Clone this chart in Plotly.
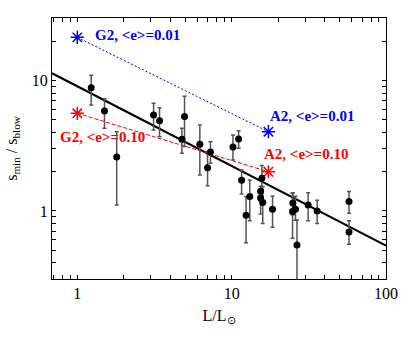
import plotly.graph_objects as go

# Data points (L/Lsun, s_min/s_blow) with asymmetric error bars
lum = [1.23, 1.50, 1.80, 3.12, 3.41, 4.76, 4.95, 6.22, 6.98, 7.29, 10.2, 11.1, 11.6, 12.4, 13.1,
       15.4, 15.4, 15.7, 15.9, 18.4, 24.9, 24.8, 25.9, 26.5, 31.3, 35.8, 57.6, 57.6]
ratio = [8.84, 5.85, 2.60, 5.45, 4.93, 3.55, 5.30, 3.25, 2.15, 2.84, 3.10, 3.57, 1.72, 0.926, 1.29,
         1.42, 1.26, 1.78, 1.16, 1.03, 1.15, 0.99, 1.03, 0.548, 1.11, 1.00, 1.18, 0.69]
err_hi = [11.0, 7.27, 4.06, 6.7, 6.2, 4.31, 7.6, 4.57, 2.85, 3.40, 3.83, 4.13, 2.06, 1.29, 1.73,
          1.55, 1.45, 2.23, 1.54, 1.30, 1.38, 1.37, 1.30, 0.853, 1.38, 1.21, 1.41, 0.84]
err_lo = [6.5, 4.31, 1.11, 4.18, 3.72, 2.77, 3.12, 1.89, 1.56, 2.32, 2.46, 3.03, 1.35, 0.571, 0.843,
          1.20, 0.95, 1.45, 0.80, 0.75, 0.93, 0.617, 0.85, 0.05, 0.84, 0.80, 0.96, 0.555]

# Fit line endpoints
fit_x = [0.686, 100]
fit_y = [11.4, 0.542]

# Model predictions
blue_x = [1.0, 17.3]
blue_y = [21.5, 4.06]
red_x = [1.0, 17.3]
red_y = [5.62, 2.0]

labels = ["G2, &lt;e&gt;=0.01", "A2, &lt;e&gt;=0.01", "G2, &lt;e&gt;=0.10", "A2, &lt;e&gt;=0.10"]

# Tick positions (major labelled decades + unlabelled minor ticks)
x_ticks = [0.7, 0.8, 0.9, 1, 2, 3, 4, 5, 6, 7, 8, 9, 10, 20, 30, 40, 50, 60, 70, 80, 90, 100]
x_labels = ["", "", "", "1", "", "", "", "", "", "", "", "", "10", "", "", "", "", "", "", "", "", "100"]
y_ticks = [0.3, 0.4, 0.5, 0.6, 0.7, 0.8, 0.9, 1, 2, 3, 4, 5, 6, 7, 8, 9, 10, 20, 30]
y_labels = ["", "", "", "", "", "", "", "1", "", "", "", "", "", "", "", "", "10", "", ""]

serif = "Liberation Serif"

fig = go.Figure()

fig.add_trace(go.Scatter(x=fit_x, y=fit_y, mode="lines",
                         line=dict(color="black", width=2.2), showlegend=False))

fig.add_trace(go.Scatter(x=blue_x, y=blue_y, mode="lines+markers",
                         line=dict(color="blue", width=1, dash="2px,2px"),
                         marker=dict(symbol="asterisk", size=11, line=dict(color="blue", width=1.5)),
                         showlegend=False))
fig.add_trace(go.Scatter(x=red_x, y=red_y, mode="lines+markers",
                         line=dict(color="red", width=1, dash="4px,2px"),
                         marker=dict(symbol="asterisk", size=11, line=dict(color="red", width=1.5)),
                         showlegend=False))

fig.add_trace(go.Scatter(
    x=lum, y=ratio, mode="markers",
    marker=dict(color="black", size=7),
    error_y=dict(type="data", symmetric=False,
                 array=[h - v for h, v in zip(err_hi, ratio)],
                 arrayminus=[v - l for l, v in zip(err_lo, ratio)],
                 color="#555555", thickness=1.5, width=2),
    showlegend=False))

label_pos = [(0.10, 1.348, "blue"), (1.235, 0.731, "blue"), (-0.127, 0.568, "red"), (1.195, 0.441, "red")]
for txt, (lx, ly, col) in zip(labels, label_pos):
    fig.add_annotation(x=lx, y=ly, xref="x", yref="y", text="<b>" + txt + "</b>",
                       font=dict(family=serif, size=15, color=col), showarrow=False,
                       xanchor="left", yanchor="middle")

axis_common = dict(type="log", showgrid=False, zeroline=False, showline=True, linecolor="black",
                   linewidth=1, mirror="ticks", ticks="inside", ticklen=4, tickcolor="black",
                   tickwidth=0.8, tickfont=dict(family=serif, size=16, color="black"))

fig.update_xaxes(range=[-0.164, 2], tickvals=x_ticks, ticktext=x_labels,
                 title=dict(text="L/L<sub>⊙</sub>", font=dict(family=serif, size=16, color="black"),
                            standoff=8),
                 **axis_common)
fig.update_yaxes(range=[-0.522, 1.481], tickvals=y_ticks, ticktext=y_labels,
                 title=dict(text="s<sub>min</sub> / s<sub>blow</sub>",
                            font=dict(family=serif, size=16, color="black"), standoff=10),
                 **axis_common)

fig.update_layout(width=415, height=346, margin=dict(l=52, r=29, t=18, b=67),
                  plot_bgcolor="white", paper_bgcolor="white", hovermode=False)

fig.write_html("out.html", config={"displayModeBar": False},
               post_script="document.body.style.margin='0';document.body.style.overflow='hidden';")
